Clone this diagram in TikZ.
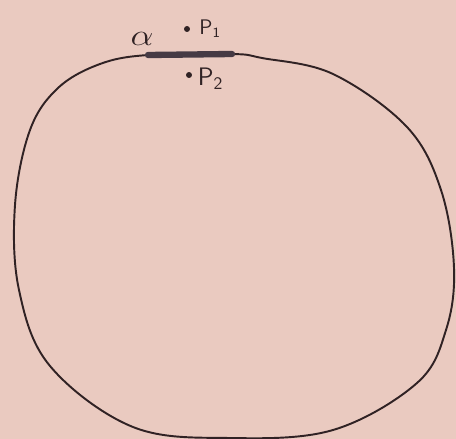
\documentclass[tikz,border=0pt]{standalone}
\usepackage{tikz}
\usetikzlibrary{positioning}

\definecolor{paper}{RGB}{234,202,192}
\definecolor{ink}{RGB}{48,34,36}
\definecolor{arcink}{RGB}{70,58,68}

\begin{document}
\begin{tikzpicture}[x=0.02cm, y=-0.02cm, line cap=round, font=\small,
    dot/.style={circle, fill=ink, inner sep=0pt, minimum size=3.4pt},
    plabel/.style={text=ink, font=\sffamily, inner sep=1pt}]
  % paper
  \fill[paper] (0,0) rectangle (456,439);
  \useasboundingbox (0,0) rectangle (456,439);
  % ends of the thick piece alpha
  \coordinate (A1) at (148,55);
  \coordinate (A2) at (232,54);
  % closed boundary curve
  \draw[ink, line width=1.1pt] plot[smooth cycle, tension=0.6] coordinates {
    (148,55) (232,54) (262,58) (333,74) (407,127) (441,190) (454,268)
    (446,330) (417,383) (333,430) (230,438) (133,427) (50,366)
    (19,290) (15,205) (30,130) (58,88) (100,64)};
  % the piece alpha of the boundary
  \draw[arcink, line width=3.6pt] (A1) -- (A2);
  \node[text=ink, font=\LARGE, anchor=base, xscale=1.2] (alpha) at (142,46) {$\alpha$};
  % the two points, one outside and one inside
  \node[dot] (p1) at (187,29) {};
  \node[plabel, right=4pt of p1, font=\sffamily\large] (p1l) {P\textsubscript{1}};
  \node[dot] (p2) at (189,75) {};
  \node[plabel, right=2pt of p2, font=\sffamily\Large, yshift=-2pt] (p2l) {P\textsubscript{2}};
\end{tikzpicture}
\end{document}
